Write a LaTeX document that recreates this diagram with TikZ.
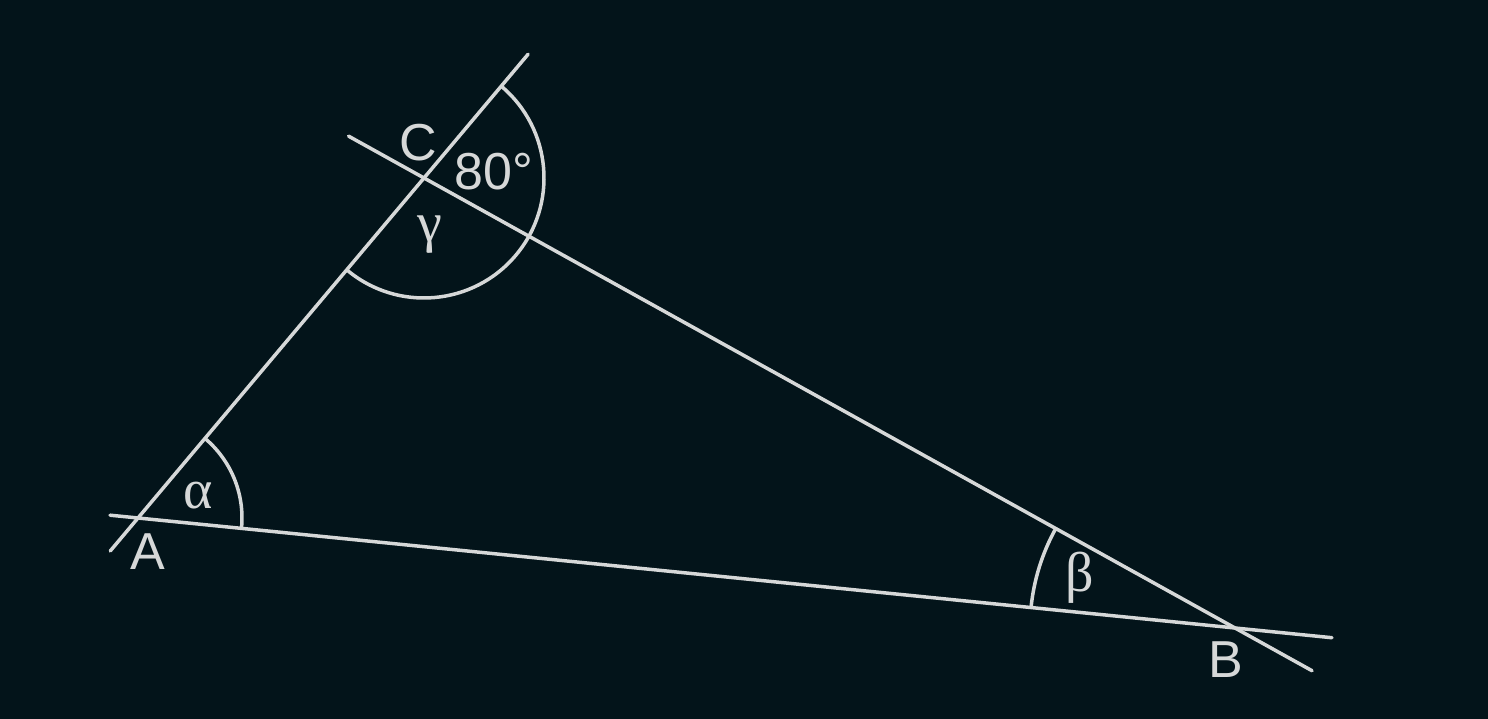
\documentclass[tikz,border=0pt]{standalone}
\usepackage{fontspec}
\setmainfont{Liberation Sans}
\newfontfamily\grkfont{Liberation Serif}
\usetikzlibrary{calc}
\definecolor{bg}{RGB}{3,20,26}
\definecolor{ink}{RGB}{214,216,216}
\begin{document}
\begin{tikzpicture}[x=1pt,y=1pt,
  geo/.style={draw=ink,line width=3.5pt,line cap=round},
  lbl/.style={text=ink,inner sep=0pt,font=\fontsize{52}{60}\selectfont},
  glbl/.style={text=ink,inner sep=0pt,font=\grkfont\fontsize{56}{60}\selectfont}]
\fill[bg] (0,0) rectangle (1488,719);
\useasboundingbox (0,0) rectangle (1488,719);
\coordinate (A) at (138,201);
\coordinate (B) at (1235,91);
\coordinate (C) at (424,541);
% lines
\draw[geo] ($(A)!-0.0255!(B)$) -- ($(A)!1.0884!(B)$);
\draw[geo] ($(A)!-0.097!(C)$) -- ($(A)!1.364!(C)$);
\draw[geo] ($(C)!-0.093!(B)$) -- ($(C)!1.095!(B)$);
% arcs
\draw[geo,line cap=butt] ([shift={(-5.73:104)}]A) arc[start angle=-5.73,end angle=49.93,radius=104];
\draw[geo,line cap=butt] ([shift={(150.97:205)}]B) arc[start angle=150.97,end angle=174.27,radius=205];
\draw[geo,line cap=butt] ([shift={(229.93:120)}]C) arc[start angle=229.93,end angle=409.93,radius=120];
% labels
\node[lbl] (lA) at (148,167) {A};
\node[lbl] (lB) at (1226,59) {B};
\node[lbl] (lC) at (418,576) {C};
\node[lbl] (l80) at (494,547) {80°};
\node[glbl] (la) at (198,223) {α};
\node[glbl] (lb) at (1080,141) {β};
\node[glbl] (lg) at (430,484) {γ};
\end{tikzpicture}
\end{document}
